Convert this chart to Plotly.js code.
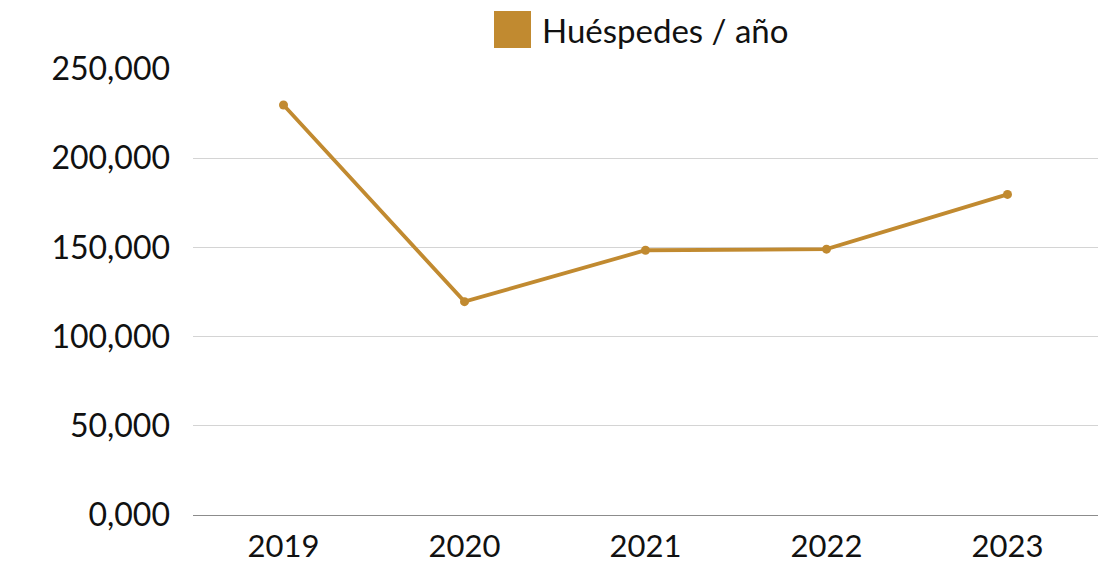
<!DOCTYPE html>
<html>
<head>
<meta charset="utf-8">
<script src="https://cdn.plot.ly/plotly-3.0.1.min.js"></script>
<style>
html,body{margin:0;padding:0;background:#fff;}
#chart{width:1111px;height:563px;}
</style>
</head>
<body>
<div id="chart"></div>
<script>
const years = ["2019", "2020", "2021", "2022", "2023"];
const guests = [229800, 119600, 148400, 149000, 179700];
const seriesName = "Huéspedes / año";
const yTickVals = [0, 50000, 100000, 150000, 200000, 250000];
const yTickText = ["0,000", "50,000", "100,000", "150,000", "200,000", "250,000"];

const gold = "#C18A30";
const fontFam = "Lato, 'Open Sans', sans-serif";

const trace = {
  type: "scatter",
  mode: "lines+markers",
  x: years,
  y: guests,
  name: seriesName,
  line: {color: gold, width: 3.8},
  marker: {color: gold, size: 9},
  showlegend: false,
  hoverinfo: "x+y"
};

const layout = {
  width: 1111,
  height: 563,
  margin: {l: 193, r: 13, t: 69, b: 48},
  paper_bgcolor: "#ffffff",
  plot_bgcolor: "#ffffff",
  font: {family: fontFam, size: 32, color: "#111111"},
  xaxis: {
    type: "category",
    range: [-0.5, 4.5],
    showgrid: false,
    showline: true,
    linecolor: "#8c8c8c",
    linewidth: 1,
    ticks: "",
    ticklabelstandoff: 4,
    tickfont: {family: fontFam, size: 31, color: "#111111"},
    fixedrange: true
  },
  yaxis: {
    range: [0, 250000],
    tickvals: yTickVals,
    ticktext: yTickText,
    showgrid: true,
    gridcolor: "#d4d4d4",
    gridwidth: 1,
    zeroline: false,
    showline: false,
    ticks: "",
    ticklabelstandoff: 22,
    tickfont: {family: fontFam, size: 32, color: "#111111"},
    fixedrange: true
  },
  shapes: [{
    type: "rect",
    xref: "paper", yref: "paper",
    x0: (494 - 193) / 905, x1: (531 - 193) / 905,
    y0: (515 - 48) / 446, y1: (515 - 11) / 446,
    fillcolor: gold,
    line: {width: 0}
  }],
  annotations: [{
    xref: "paper", yref: "paper",
    x: (540 - 193) / 905, y: (515 - 29.5) / 446,
    xanchor: "left", yanchor: "middle",
    text: seriesName,
    showarrow: false,
    font: {family: fontFam, size: 33, color: "#111111"}
  }]
};

Plotly.newPlot("chart", [trace], layout, {displayModeBar: false, staticPlot: true});
</script>
</body>
</html>
